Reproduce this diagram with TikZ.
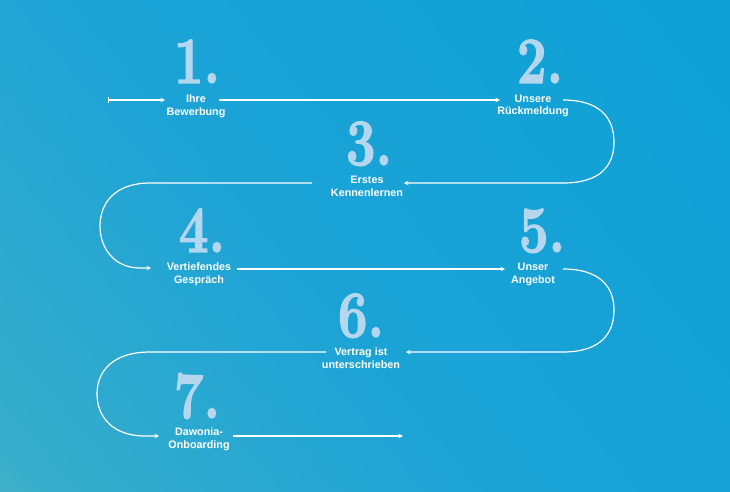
\documentclass[tikz,border=0pt]{standalone}
\usepackage{fontspec}
\setsansfont{Liberation Sans}
\newfontfamily\numfont{Latin Modern Roman}[FakeBold=2.2]
\usetikzlibrary{arrows.meta}
\definecolor{bgblue}{HTML}{08A0D6}
\definecolor{bgmidA}{HTML}{1CA3D6}
\definecolor{bgmidB}{HTML}{36ADCB}
\definecolor{bggreen}{HTML}{6AC0B8}
\definecolor{numcol}{HTML}{B4D6EE}
\pgfdeclareverticalshading{bgshade}{100bp}{color(0bp)=(bggreen); color(18bp)=(bgmidB); color(45bp)=(bgmidA); color(100bp)=(bgblue)}
\tikzset{
  lab/.style={font=\sffamily\bfseries\fontsize{10.8}{12.8}\selectfont, text=white, align=center, inner sep=0pt},
  num/.style={font=\numfont\bfseries\fontsize{66}{66}\selectfont, text=numcol, inner sep=0pt, anchor=base},
  conn/.style={draw=white, line width=1.2pt},
  tip/.style={-{Stealth[length=4.5pt,width=4.5pt]}}
}
\newcommand{\numtxt}[1]{\scalebox{0.8}[1]{#1}}
\begin{document}
\begin{tikzpicture}[x=1pt,y=-1pt]
\shade[shading=bgshade, shading angle=-50] (0,0) rectangle (730,491);
\useasboundingbox (0,0) rectangle (730,491);

% numbers
\node[num] (n1) at (197,83) {\numtxt{1.}};
\node[num] (n2) at (540,83) {\numtxt{2.}};
\node[num] (n3) at (369,165) {\numtxt{3.}};
\node[num] (n4) at (202,252) {\numtxt{4.}};
\node[num] (n5) at (542,252) {\numtxt{5.}};
\node[num] (n6) at (361,337) {\numtxt{6.}};
\node[num] (n7) at (197,418) {\numtxt{7.}};

% labels
\node[lab] (l1) at (196,106) {Ihre\\Bewerbung};
\node[lab] (l2) at (533,106) {Unsere\\Rückmeldung};
\node[lab] (l3) at (367,186) {Erstes\\Kennenlernen};
\node[lab] (l4) at (199,274) {Vertiefendes\\Gespräch};
\node[lab] (l5) at (533,274.5) {Unser\\Angebot};
\node[lab] (l6) at (361,358.5) {Vertrag ist\\unterschrieben};
\node[lab] (l7) at (199,439) {Dawonia-\\Onboarding};

% connector end points
\coordinate (c0) at (108,100);
\coordinate (c1) at (165,100);
\coordinate (c2a) at (219,100);
\coordinate (c2b) at (500,100);
\coordinate (c3a) at (563,100);
\coordinate (c3b) at (404,183);
\coordinate (c4a) at (312,183);
\coordinate (c4b) at (151,268);
\coordinate (c5a) at (237,269);
\coordinate (c5b) at (505,269);
\coordinate (c6a) at (563,269);
\coordinate (c6b) at (406,352);
\coordinate (c7a) at (326,352);
\coordinate (c7b) at (159,436);
\coordinate (c8a) at (233,436);
\coordinate (c8b) at (403,436);

\draw[conn, {Bar[width=6pt]}-{Stealth[length=4.5pt,width=4.5pt]}] (c0) -- (c1);
\draw[conn, tip] (c2a) -- (c2b);
\draw[conn, tip] (c3a) .. controls (600,100) and (614,118) .. (614,142)
   .. controls (614,166) and (600,183) .. (563,183) -- (c3b);
\draw[conn, tip] (c4a) -- (150,183) .. controls (115,183) and (100,203) .. (100,226)
   .. controls (100,249) and (115,268) .. (140,268) -- (c4b);
\draw[conn, tip] (c5a) -- (c5b);
\draw[conn, tip] (c6a) .. controls (600,269) and (614,287) .. (614,310)
   .. controls (614,334) and (600,352) .. (563,352) -- (c6b);
\draw[conn, tip] (c7a) -- (150,352) .. controls (113,352) and (97,371) .. (97,394)
   .. controls (97,417) and (113,436) .. (145,436) -- (c7b);
\draw[conn, tip] (c8a) -- (c8b);
\end{tikzpicture}
\end{document}
